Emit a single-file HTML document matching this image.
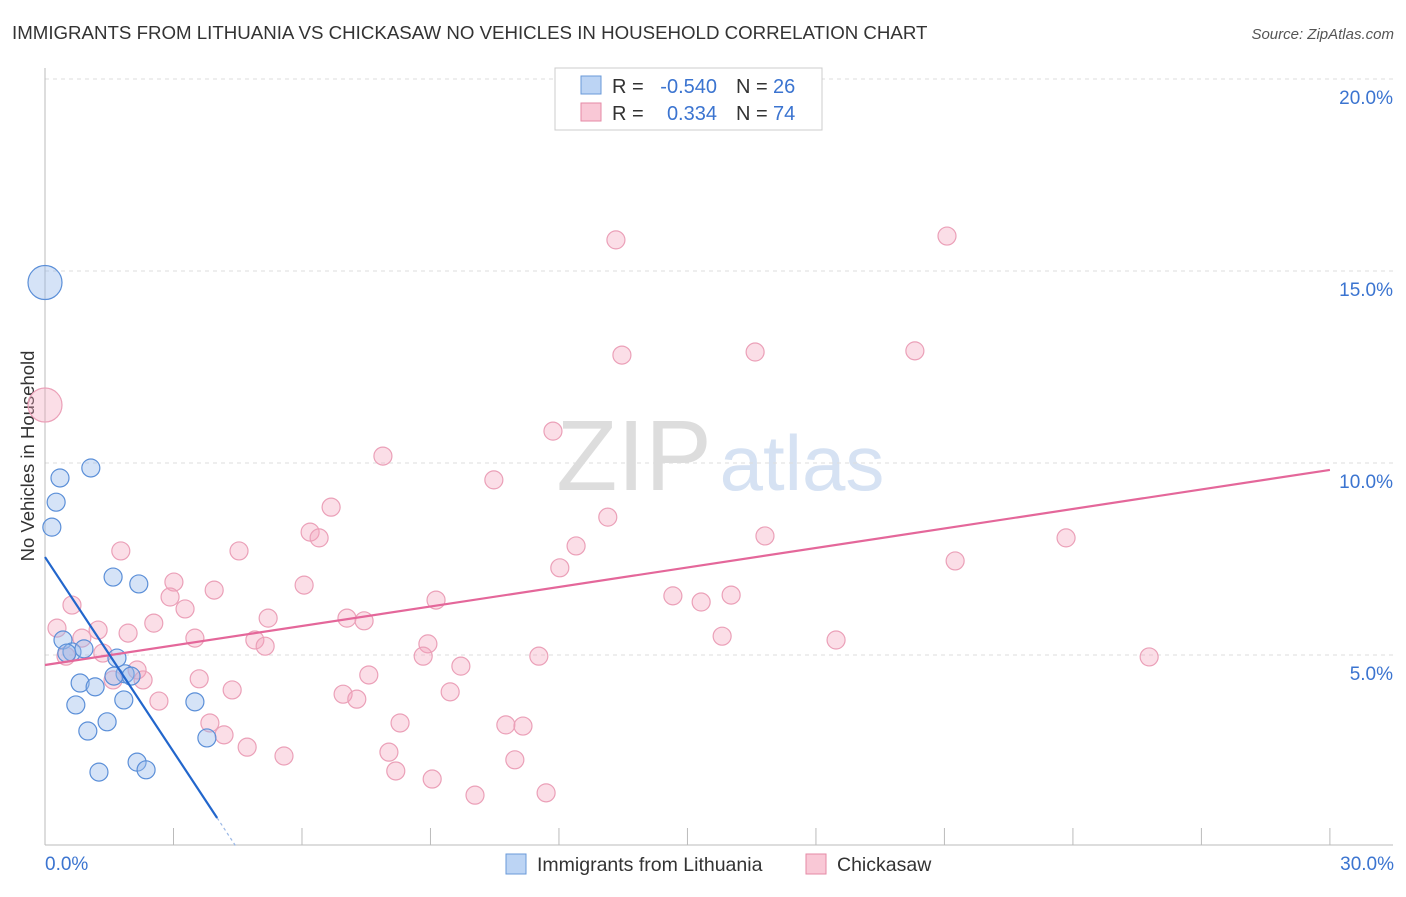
<!DOCTYPE html>
<html><head><meta charset="utf-8"><style>
body{margin:0;background:#fff;font-family:"Liberation Sans",sans-serif;}
svg text{font-family:"Liberation Sans",sans-serif;}
</style></head><body>
<svg id="c" width="1406" height="892">
<text x="12" y="39" font-size="18.7" fill="#333">IMMIGRANTS FROM LITHUANIA VS CHICKASAW NO VEHICLES IN HOUSEHOLD CORRELATION CHART</text>
<text x="1394" y="39" font-size="15" fill="#555" font-style="italic" text-anchor="end">Source: ZipAtlas.com</text>
<text x="634" y="490" font-size="100" fill="#ddd" font-family="Liberation Serif" text-anchor="middle">ZIP</text>
<text x="802" y="490" font-size="78" fill="#d6e2f3" text-anchor="middle">atlas</text>
<text transform="translate(34,456) rotate(-90)" font-size="18.5" fill="#333" text-anchor="middle">No Vehicles in Household</text>
<g id="grid"></g><g id="pts"></g><g id="lines"></g>
<g>
<rect x="555" y="68" width="267" height="62" fill="#fff" stroke="#ccc"/>
<rect x="581" y="76" width="20" height="18" fill="#bcd4f4" stroke="#6a9ad8"/>
<rect x="581" y="103" width="20" height="18" fill="#f9c8d6" stroke="#e58aa6"/>
<text x="612" y="93" font-size="20" fill="#333">R =</text>
<text x="717" y="93" font-size="20" fill="#3b74d0" text-anchor="end">-0.540</text>
<text x="736" y="93" font-size="20" fill="#333">N =</text>
<text x="773" y="93" font-size="20" fill="#3b74d0">26</text>
<text x="612" y="120" font-size="20" fill="#333">R =</text>
<text x="717" y="120" font-size="20" fill="#3b74d0" text-anchor="end">0.334</text>
<text x="736" y="120" font-size="20" fill="#333">N =</text>
<text x="773" y="120" font-size="20" fill="#3b74d0">74</text>
</g>
<g>
<rect x="506" y="854" width="20" height="20" fill="#bcd4f4" stroke="#6a9ad8"/>
<text x="537" y="871" font-size="19.5" fill="#333">Immigrants from Lithuania</text>
<rect x="806" y="854" width="20" height="20" fill="#f9c8d6" stroke="#e58aa6"/>
<text x="837" y="871" font-size="19.5" fill="#333">Chickasaw</text>
</g>
</svg>
<script>
const blueX=[0,1.07,0.35,0.26,0.16,1.59,2.19,0.42,0.63,0.51,0.91,1.68,1.87,2.01,0.82,1.17,0.72,1.84,3.50,1.45,1.00,3.78,2.15,2.36,1.26,1.61];
const blueY=[14.7,9.87,9.61,8.98,8.33,7.03,6.85,5.39,5.08,5.05,5.16,4.92,4.51,4.45,4.27,4.17,3.70,3.83,3.78,3.26,3.02,2.84,2.21,2.01,1.95,4.45];
const pinkX=[0,13.33,21.06,13.47,16.58,20.31,11.86,7.89,10.48,6.68,13.14,6.19,6.40,1.77,4.53,12.40,16.81,23.84,21.25,12.02,3.01,6.05,3.95,2.92,14.66,15.32,16.02,9.13,0.63,3.27,5.21,7.05,7.45,2.54,0.28,1.24,1.94,0.86,3.50,4.90,15.81,18.47,5.14,8.94,1.35,0.49,8.83,11.53,25.78,9.71,2.15,1.59,2.29,3.60,7.56,4.37,6.96,9.46,2.66,7.28,3.85,4.18,8.29,10.76,11.16,4.72,5.58,8.03,10.97,8.19,9.04,10.04,11.70];
const pinkY=[11.51,15.81,15.91,12.81,12.89,12.92,10.83,10.18,9.56,8.85,8.59,8.20,8.05,7.71,7.71,7.84,8.10,8.05,7.45,7.27,6.90,6.82,6.69,6.51,6.54,6.38,6.56,6.43,6.30,6.20,5.96,5.96,5.89,5.83,5.70,5.65,5.57,5.44,5.44,5.39,5.49,5.39,5.23,5.29,5.05,4.97,4.97,4.97,4.95,4.71,4.61,4.35,4.35,4.38,4.48,4.09,3.98,4.04,3.80,3.85,3.23,2.92,3.23,3.18,3.15,2.60,2.37,2.47,2.27,1.98,1.77,1.35,1.41];
const yTicks=[5,10,15,20];
const xTickLabels=["0.0%","30.0%"];
const blueFit=[7.55,-1.69];
const pinkFit=[4.74,0.1693];
const sx=v=>45+v*42.83, sy=v=>847-v*38.4;
const NS="http://www.w3.org/2000/svg";
function mk(t,a,p){const e=document.createElementNS(NS,t);for(const k in a)e.setAttribute(k,a[k]);p.appendChild(e);return e;}
const g=document.getElementById('grid');
yTicks.forEach(t=>{
 const l=mk('line',{x1:45,x2:1393,y1:sy(t),y2:sy(t),stroke:'#ddd','stroke-dasharray':'4,4'},g);
 
 
 const tx=mk('text',{x:1393,y:sy(t)+25,'font-size':19,fill:'#3b74d0','text-anchor':'end'},g);
 tx.textContent=t.toFixed(1)+'%';
 
 
});
const ax=mk('line',{x1:45,x2:1393,y1:845,y2:845,stroke:'#bbb'},g);


const ay=mk('line',{x1:45,x2:45,y1:68,y2:845,stroke:'#bbb'},g);


for(let i=0;i<=10;i++){
 const tk=mk('line',{x1:sx(i*3),x2:sx(i*3),y1:828,y2:845,stroke:'#bbb'},g);
 
 
}
xTickLabels.forEach((s,i)=>{
 const tx=mk('text',{x:i?1394:45,y:870,'font-size':19,fill:'#3b74d0','text-anchor':i?'end':'start'},g);
 tx.textContent=s;
 
 
});
const p=document.getElementById('pts');
pinkX.forEach((x,i)=>{
 const c=mk('circle',{cx:sx(x),cy:sy(pinkY[i]),r:i==0?17:9,fill:'rgba(244,160,186,0.35)',stroke:'#eba0b8','stroke-width':1.2},p);
 
 
});
blueX.forEach((x,i)=>{
 const c=mk('circle',{cx:sx(x),cy:sy(blueY[i]),r:i==0?17:9,fill:'rgba(150,185,235,0.4)',stroke:'#5b8fd8','stroke-width':1.2},p);
 
 
});
const L=document.getElementById('lines');
const pl=mk('line',{x1:sx(0),y1:sy(pinkFit[0]),x2:sx(30),y2:sy(pinkFit[0]+pinkFit[1]*30),stroke:'#e4679a','stroke-width':2.2},L);


const xe=4.02;
const bl=mk('line',{x1:sx(0),y1:sy(blueFit[0]),x2:sx(xe),y2:sy(blueFit[0]+blueFit[1]*xe),stroke:'#2266cc','stroke-width':2.2},L);


const x0=-blueFit[0]/blueFit[1];
const bd=mk('line',{x1:sx(xe),y1:sy(blueFit[0]+blueFit[1]*xe),x2:sx(x0),y2:sy(0),stroke:'#9bb8e6','stroke-width':1.2,'stroke-dasharray':'3,3'},L);


</script>
</body></html>
